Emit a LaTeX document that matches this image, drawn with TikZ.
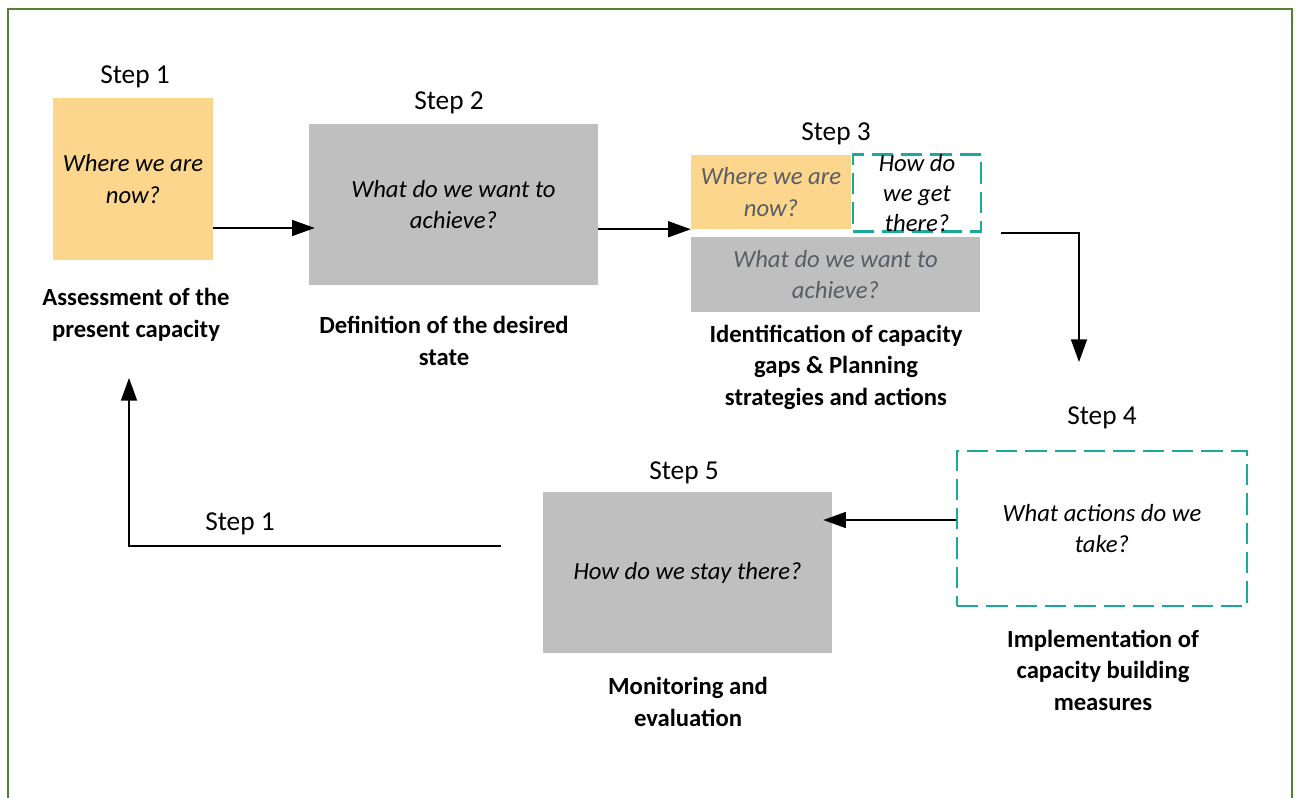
\documentclass[tikz,border=0pt]{standalone}
\usepackage{fontspec}
\setmainfont{Carlito}
\usetikzlibrary{arrows.meta}
\definecolor{boxorange}{RGB}{252,214,140}
\definecolor{boxgray}{RGB}{191,191,191}
\definecolor{dashteal}{RGB}{27,169,155}
\definecolor{framegreen}{RGB}{84,130,53}
\definecolor{fadedtext}{RGB}{88,94,100}

\begin{document}
\begin{tikzpicture}[x=0.75pt,y=-0.75pt]
        \tikzset{Box/.style={rectangle,inner sep=0pt,align=center,font=\fontsize{18.5}{23.6}\selectfont\itshape},
                 Orange/.style={Box,fill=boxorange},
                 Gray/.style={Box,fill=boxgray},
                 Dash/.style={Box,draw=dashteal,line width=2pt,dash pattern=on 16pt off 6pt},
                 StepLabel/.style={font=\fontsize{20.5}{24}\selectfont},
                 Caption/.style={align=center,font=\fontsize{18.5}{23.6}\selectfont\bfseries},
                 Flow/.style={-{Triangle[length=17pt,width=12pt]},line width=1.2pt}}

        \useasboundingbox (0,0) rectangle (1296,798);
        \draw[framegreen,line width=1.5pt] (8,798) -- (8,9) -- (1292,9) -- (1292,798);

        \node[Orange,minimum width=120pt,minimum height=121.5pt] (B1) at (133,179) {Where we are\\now?};
        \node[Gray,minimum width=216.75pt,minimum height=120.75pt] (B2) at (453.5,204.5) {What do we want to\\achieve?};
        \node[Orange,text=fadedtext,minimum width=120pt,minimum height=55.5pt] (B3a) at (771,192) {Where we are\\now?};
        \node[Dash,minimum width=96pt,minimum height=57pt,font=\fontsize{18.5}{22.5}\selectfont\itshape] (B3b) at (917,193) {How do\\we get\\there?};
        \node[Gray,text=fadedtext,minimum width=216.75pt,minimum height=56.25pt] (B3c) at (835.5,274.5) {What do we want to\\achieve?};
        \node[Dash,minimum width=217.5pt,minimum height=116.25pt] (B4) at (1102,528.5) {What actions do we\\take?};
        \node[Gray,minimum width=216.75pt,minimum height=120.75pt] (B5) at (687.5,572.5) {How do we stay there?};

        \node[StepLabel] (L1) at (135,77) {Step 1};
        \node[StepLabel] (L2) at (449,103) {Step 2};
        \node[StepLabel] (L3) at (836,134) {Step 3};
        \node[StepLabel] (L4) at (1102,418) {Step 4};
        \node[StepLabel] (L5) at (684,473) {Step 5};
        \node[StepLabel] (L6) at (240,524) {Step 1};

        \node[Caption] (C1) at (136,315) {Assessment of the\\present capacity};
        \node[Caption] (C2) at (444,341) {Definition of the desired\\state};
        \node[Caption] (C3) at (836,367) {Identification of capacity\\gaps \& Planning\\strategies and actions};
        \node[Caption] (C4) at (1103,670) {Implementation of\\capacity building\\measures};
        \node[Caption] (C5) at (688,702) {Monitoring and\\evaluation};

        \coordinate (T3) at (1001,233);
        \coordinate (T4) at (1079,362);
        \coordinate (R5) at (501,546);
        \coordinate (R1) at (129,378);

        \draw[Flow,shorten >=-4.5pt] (B1.east |- 0,228) -- (B2.west |- 0,228);
        \draw[Flow] (B2.east |- B3a.south west) -- (B3a.south west);
        \draw[Flow] (T3) -| (T4);
        \draw[Flow,shorten >=-6.75pt] (B4.west |- 0,520) -- (B5.east |- 0,520);
        \draw[Flow] (R5) -| (R1);
\end{tikzpicture}
\end{document}
